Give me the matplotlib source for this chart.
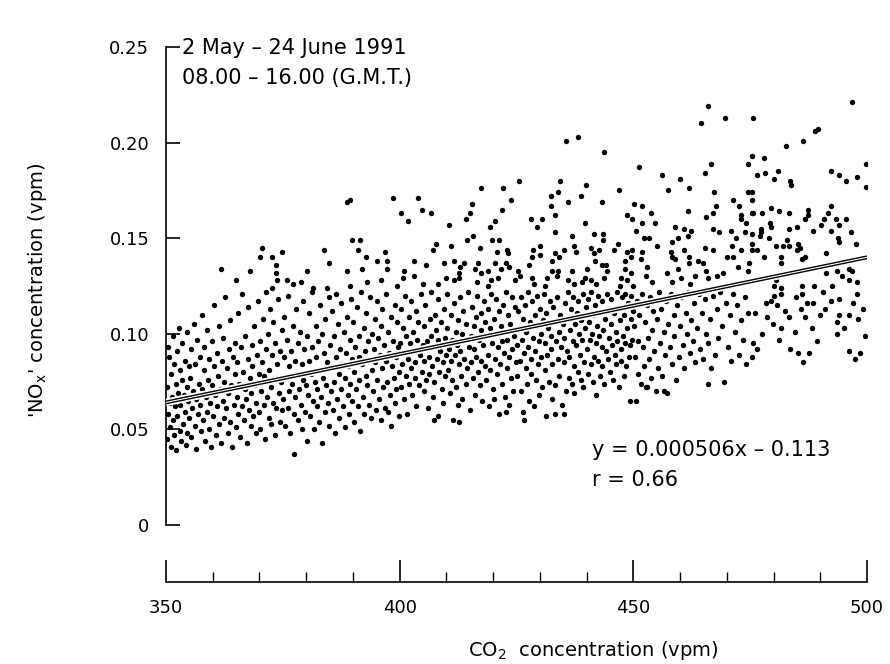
import numpy as np
import matplotlib
matplotlib.use("Agg")
import matplotlib.pyplot as plt

# NOx values are given in thousandths of a vpm
# sparse points above the dense cloud
upper_350 = [(370.5,145),(370.2,140),(372.6,140),(374.9,143),(373.5,136),(361.8,134),(368.0,133),
             (364.9,128),(373.5,132),(373.8,128),(375.9,128),(377.2,126),(372.6,124)]
upper_375 = [(388.8,169),(389.3,170),(398.6,171),(400.2,163),(401.7,159),(389.9,149),(391.6,149),(391.0,144),
             (383.8,144),(396.8,143),(392.9,140),(395.1,138),(397.3,138),(384.9,137),(380.2,133),(388.8,133),
             (392.0,134),(397.2,134),(400.9,133),(378.9,127),(393.1,127),(395.9,128),(400.7,129),
             (381.5,124),(384.4,124),(389.4,125),(399.5,125)]
upper_400 = [(425.6,180),(417.5,176),(422.2,176),(403.9,171),(423.8,170),(415.4,168),(404.8,165),(421.9,165),
             (406.6,163),(415.0,163),(414.3,160),(420.3,159),(410.6,157),(419.4,156),(415.6,151),(414.5,149),
             (419.7,149),(421.2,149),(407.7,147),(411.0,146),(407.2,144),(417.1,145),(423.0,144),(420.9,143),
             (423.2,142),(403.1,138),(405.7,136),(409.5,137),(411.6,138),(413.8,137),(416.8,137),(413.0,135),
             (420.3,137),(422.8,137),(423.5,135),(425.4,133),(416.2,134),(418.8,133),(417.5,132),(421.7,134),
             (412.8,132),(403.1,130),(409.9,129),(411.7,128),(412.8,129),(419.6,128),(421.0,129),(424.6,128),
             (425.8,130),(416.5,127),(418.8,125),(408.3,126),(404.9,126)]
upper_425 = [(435.5,201),(438.2,203),(443.7,195),(451.3,187),(434.4,180),(439.8,178),(446.9,175),(432.3,172),
             (433.9,174),(438.7,172),(436.1,169),(443.2,169),(450.2,168),(432.3,167),(433.2,162),(428.1,160),
             (430.5,160),(448.7,162),(449.8,160),(429.4,156),(439.6,158),(433.2,153),(436.8,151),(441.6,152),
             (443.6,152),(443.6,149),(450.5,154),(428.6,144),(430.1,146),(430.1,141),(428.3,140),(433.2,142),
             (435.2,144),(437.4,146),(437.7,143),(441.0,145),(442.7,144),(441.6,142),(446.7,147),(445.8,144),
             (448.7,143),(449.8,144),(427.7,136),(432.5,138),(434.1,140),(432.6,133),(433.9,133),(436.8,133),
             (440.1,134),(441.9,138),(443.4,136),(444.2,136),(444.4,133),(448.2,138),(449.6,140),(448.3,134),
             (449.6,132),(428.3,129),(431.6,129),(433.6,130),(436.1,128),(439.6,129),(441.0,128),(443.7,129),
             (447.3,129),(448.7,128),(428.8,126),(431.2,125),(437.4,126),(439.1,127),(442.0,126),(450.0,125),
             (447.1,125)]
upper_450 = [(466.0,219),(469.7,213),(464.5,210),(466.7,189),(474.5,189),(456.2,183),(460.0,181),(465.4,184),
             (462.0,176),(457.4,175),(467.2,174),(474.5,174),(471.4,170),(451.8,167),(472.7,167),(467.6,167),
             (461.6,164),(453.8,163),(465.5,161),(467.0,163),(473.1,162),(473.1,160),(474.2,158),(475.6,163),
             (451.8,158),(454.7,158),(458.9,156),(460.9,155),(462.3,154),(467.0,155),(468.4,153),(470.8,154),
             (474.0,153),(471.9,150),(452.3,150),(453.4,150),(455.0,146),(458.3,148),(459.6,150),(461.6,151),
             (460.9,144),(465.3,145),(467.0,144),(471.1,146),(473.1,144),(451.8,143),(458.0,143),(458.3,140),
             (458.9,139),(462.0,140),(461.9,137),(463.9,138),(465.0,137),(470.1,140),(471.4,140),(472.5,135),
             (474.7,137),(451.6,139),(453.0,135),(459.6,134),(465.6,133),(469.1,132),(474.6,133),(452.7,130),
             (457.1,132),(468.0,130),(463.1,130),(454.1,127),(458.3,127),(460.1,129),(462.1,126),(466.0,129)]
upper_475 = [(496.7,221),(475.7,213),(488.9,206),(489.6,207),(486.3,201),(482.7,198),(475.4,193),(477.9,192),
             (476.5,183),(478.1,184),(480.9,185),(480.0,181),(483.6,180),(483.8,178),(492.3,185),(494.1,183),
             (495.5,180),(497.8,182),(499.7,189),(499.7,177),(475.4,174),(475.4,170),(475.4,163),(477.6,163),
             (479.5,166),(481.2,164),(483.4,163),(487.4,165),(487.3,162),(486.7,160),(492.3,167),(491.6,163),
             (493.4,160),(495.6,160),(490.9,160),(490.2,157),(494.1,157),(475.4,152),(477.4,155),(477.4,153),
             (479.2,158),(479.5,156),(483.4,155),(485.1,156),(488.4,154),(492.4,154),(496.6,153),(475.4,147),
             (475.4,144),(476.5,144),(477.2,151),(479.1,150),(480.5,146),(482.0,146),(482.9,149),(483.4,146),
             (485.3,147),(485.6,145),(485.1,144),(493.8,150),(494.0,148),(497.7,147),(477.9,140),(481.6,140),
             (481.7,137),(486.0,139),(486.8,140),(491.2,142),(490.6,136),(493.2,137),(493.5,133),(491.2,132),
             (494.6,130),(496.1,134),(496.7,133),(497.9,127),(496.1,128),(480.5,128),(480.0,125),(481.6,124),
             (486.0,125),(488.6,125),(492.6,125)]

# dense cloud below about 0.123 vpm
lower_350 = [(350.2,72),(350.4,58),(350.3,45),(350.6,88),(350.8,64),(350.5,93),(350.9,51),(351.1,79),(351.0,41),
             (351.3,67),(351.5,99),(351.4,55),(351.7,84),(351.8,47),(352.0,62),(352.2,74),(352.1,39),(352.4,91),
             (352.3,57),(352.6,69),(352.8,103),(352.9,49),(353.1,81),(353.0,63),(353.3,44),(353.5,76),(353.4,95),
             (353.7,53),(353.9,68),(354.0,86),(354.2,42),(354.1,59),(354.4,72),(354.6,101),(354.5,48),(354.8,65),
             (354.9,83),(355.0,56),(355.2,77),(355.4,92),(355.3,46),(355.6,61),(355.8,70),(356.0,105),(356.1,52),
             (356.3,84),(356.5,66),(356.4,40),(356.7,97),(356.9,58),(357.0,74),(357.2,88),(357.4,49),(357.3,63),
             (357.6,110),(357.8,71),(357.9,55),(358.1,81),(358.3,44),(358.2,93),(358.5,67),(358.7,59),(358.8,102),
             (359.0,76),(359.2,50),(359.1,87),(359.4,64),(359.6,41),(359.8,73),(359.9,96),(360.1,57),(360.3,83),
             (360.2,115),(360.5,68),(360.7,47),(360.9,90),(361.0,62),(361.2,78),(361.4,53),(361.3,104),(361.6,71),
             (361.8,43),(362.0,86),(362.1,65),(362.3,98),(362.5,56),(362.4,75),(362.7,119),(362.9,61),(363.0,82),
             (363.2,48),(363.4,92),(363.3,69),(363.6,54),(363.8,107),(364.0,73),(364.1,41),(364.3,88),(364.5,63),
             (364.7,79),(364.9,51),(364.8,95),(365.1,67),(365.3,111),(365.2,85),(365.5,58),(365.7,74),(365.9,46),
             (366.0,93),(366.2,62),(366.4,80),(366.3,121),(366.6,55),(366.8,71),(367.0,99),(367.1,66),(367.3,43),
             (367.5,87),(367.7,60),(367.6,114),(367.9,77),(368.1,52),(368.3,94),(368.2,69),(368.5,83),(368.7,57),
             (368.9,104),(369.0,73),(369.2,48),(369.4,89),(369.3,64),(369.6,117),(369.8,79),(369.9,59),(370.1,96),
             (370.3,70),(370.2,50),(370.5,85),(370.7,108),(370.9,63),(371.0,78),(371.2,45),(371.4,92),(371.3,122),
             (371.6,67),(371.8,100),(372.0,56),(372.1,81),(372.3,113),(372.5,72),(372.4,53),(372.7,89),(372.9,64),
             (373.0,106),(373.2,76),(373.4,47),(373.3,95),(373.6,61),(373.8,84),(374.0,118),(374.1,69),(374.3,54),
             (374.5,91),(374.7,75),(374.9,102),(374.8,60)]
lower_375 = [(375.1,66),(375.3,88),(375.2,109),(375.5,52),(375.7,77),(375.9,97),(376.0,61),(376.2,120),(376.4,83),
             (376.3,70),(376.6,48),(376.8,91),(377.0,74),(377.1,104),(377.3,58),(377.5,86),(377.4,37),(377.7,67),
             (377.9,113),(378.1,79),(378.3,55),(378.2,95),(378.5,71),(378.7,101),(378.9,63),(379.0,84),(379.2,50),
             (379.4,117),(379.3,76),(379.6,92),(379.8,59),(379.9,73),(380.1,99),(380.3,68),(380.2,44),(380.5,86),
             (380.7,111),(380.9,57),(381.0,79),(381.2,93),(381.4,65),(381.3,122),(381.6,50),(381.8,75),(382.0,104),
             (382.1,88),(382.3,62),(382.5,96),(382.4,71),(382.7,54),(382.9,115),(383.0,81),(383.2,67),(383.4,43),
             (383.3,100),(383.6,77),(383.8,90),(384.0,59),(384.1,108),(384.3,73),(384.5,85),(384.7,64),(384.9,119),
             (384.8,52),(385.1,94),(385.3,70),(385.2,82),(385.5,112),(385.7,60),(385.9,99),(386.0,75),(386.2,48),
             (386.4,88),(386.3,121),(386.6,66),(386.8,105),(387.0,79),(387.1,56),(387.3,92),(387.5,71),(387.4,116),
             (387.7,84),(387.9,62),(388.1,101),(388.3,77),(388.2,51),(388.5,90),(388.7,109),(388.9,68),(389.0,83),
             (389.2,58),(389.4,97),(389.3,74),(389.6,118),(389.8,87),(389.9,65),(390.1,106),(390.3,80),(390.2,54),
             (390.5,93),(390.7,71),(390.9,114),(391.0,62),(391.2,88),(391.4,99),(391.3,76),(391.6,49),(391.8,122),
             (392.0,84),(392.1,67),(392.3,103),(392.5,91),(392.4,58),(392.7,78),(392.9,111),(393.0,73),(393.2,96),
             (393.4,63),(393.3,86),(393.6,119),(393.8,56),(394.0,81),(394.1,100),(394.3,70),(394.5,92),(394.7,108),
             (394.9,60),(394.8,85),(395.1,76),(395.3,98),(395.2,117),(395.5,66),(395.7,89),(395.9,55),(396.0,104),
             (396.2,82),(396.4,72),(396.3,113),(396.6,94),(396.8,61),(397.0,86),(397.1,121),(397.3,75),(397.5,101),
             (397.4,59),(397.7,90),(397.9,68),(398.1,109),(398.3,83),(398.2,52),(398.5,96),(398.7,77),(398.9,115),
             (399.0,64),(399.2,88),(399.4,106),(399.3,71),(399.6,93),(399.8,57),(399.9,80)]
lower_400 = [(400.1,95),(400.3,72),(400.2,113),(400.5,84),(400.7,103),(400.9,66),(401.0,90),(401.2,120),(401.4,78),
             (401.3,99),(401.6,58),(401.8,87),(402.0,109),(402.1,74),(402.3,95),(402.5,117),(402.4,82),(402.7,68),
             (402.9,101),(403.0,91),(403.2,77),(403.4,112),(403.3,85),(403.6,62),(403.8,97),(404.0,106),(404.1,73),
             (404.3,89),(404.5,121),(404.7,80),(404.9,94),(405.1,70),(405.3,104),(405.2,86),(405.5,115),(405.7,76),
             (405.9,96),(406.0,61),(406.2,88),(406.4,108),(406.3,79),(406.6,99),(406.8,122),(407.0,83),(407.1,67),
             (407.3,93),(407.5,110),(407.4,75),(407.7,102),(407.9,87),(408.1,57),(408.3,97),(408.2,118),(408.5,80),
             (408.7,91),(408.9,106),(409.0,71),(409.2,85),(409.4,113),(409.3,64),(409.6,98),(409.8,78),(409.9,89),
             (410.1,103),(410.3,81),(410.2,121),(410.5,92),(410.7,69),(410.9,110),(411.0,86),(411.2,97),(411.4,55),
             (411.3,76),(411.6,116),(411.8,89),(412.0,101),(412.1,72),(412.3,94),(412.5,63),(412.4,107),(412.7,84),
             (412.9,119),(413.0,91),(413.2,78),(413.4,100),(413.3,66),(413.6,112),(413.8,87),(414.0,96),(414.1,74),
             (414.3,105),(414.5,82),(414.7,122),(414.9,93),(415.1,60),(415.3,99),(415.2,85),(415.5,114),(415.7,77),
             (415.9,104),(416.0,92),(416.2,68),(416.4,109),(416.3,88),(416.6,120),(416.8,80),(417.0,97),(417.1,73),
             (417.3,111),(417.5,86),(417.4,102),(417.7,65),(417.9,94),(418.1,117),(418.3,83),(418.2,106),(418.5,76),
             (418.7,99),(418.9,113),(419.0,89),(419.2,62),(419.4,103),(419.3,81),(419.6,121),(419.8,95),(419.9,71),
             (420.1,108),(420.3,87),(420.2,66),(420.5,100),(420.7,118),(420.9,79),(421.0,93),(421.2,112),(421.4,84),
             (421.3,58),(421.6,104),(421.8,96),(422.0,74),(422.1,115),(422.3,90),(422.5,67),(422.4,101),(422.7,122),
             (422.9,82),(423.0,97),(423.2,110),(423.4,63),(423.3,88),(423.6,105),(423.8,77),(424.0,119),(424.1,92),
             (424.3,70),(424.5,99),(424.7,114),(424.9,85),(407.3,55),(412.8,54),(422.7,59)]
lower_425 = [(425.1,94),(425.3,112),(425.2,78),(425.5,103),(425.7,86),(425.9,119),(426.0,70),(426.2,97),(426.4,108),
             (426.3,59),(426.6,90),(426.8,115),(427.0,82),(427.1,101),(427.3,74),(427.5,122),(427.4,93),(427.7,65),
             (427.9,106),(428.1,87),(428.3,117),(428.2,79),(428.5,98),(428.7,62),(428.9,110),(429.0,91),(429.2,76),
             (429.4,104),(429.3,120),(429.6,84),(429.8,96),(429.9,68),(430.1,113),(430.3,88),(430.2,100),(430.5,72),
             (430.7,107),(430.9,121),(431.0,81),(431.2,95),(431.4,57),(431.3,111),(431.6,89),(431.8,103),(432.0,75),
             (432.1,117),(432.3,92),(432.5,66),(432.4,99),(432.7,84),(432.9,114),(433.0,106),(433.2,73),(433.4,96),
             (433.3,58),(433.6,119),(433.8,87),(434.0,101),(434.1,78),(434.3,110),(434.5,93),(434.7,63),(434.9,105),
             (435.1,85),(435.3,116),(435.2,98),(435.5,70),(435.7,108),(435.9,91),(436.0,122),(436.2,77),(436.4,102),
             (436.3,88),(436.6,113),(436.8,74),(437.0,96),(437.1,119),(437.3,83),(437.5,105),(437.4,69),(437.7,94),
             (437.9,111),(438.1,80),(438.3,100),(438.2,117),(438.5,89),(438.7,76),(438.9,107),(439.0,97),(439.2,121),
             (439.4,85),(439.3,72),(439.6,103),(439.8,114),(440.1,92),(440.3,118),(440.2,79),(440.5,106),(440.7,97),
             (440.9,84),(441.0,122),(441.2,100),(441.4,75),(441.3,110),(441.6,88),(441.8,115),(442.0,95),(442.1,68),
             (442.3,104),(442.5,120),(442.4,86),(442.7,99),(442.9,78),(443.0,112),(443.2,93),(443.4,117),(443.3,83),
             (443.6,102),(443.8,74),(444.0,108),(444.1,91),(444.3,121),(444.5,87),(444.7,98),(444.9,113),(445.1,80),
             (445.3,105),(445.2,118),(445.5,94),(445.7,76),(445.9,111),(446.0,89),(446.2,101),(446.4,122),(446.3,84),
             (446.6,96),(446.8,114),(447.0,72),(447.1,107),(447.3,92),(447.5,119),(447.4,86),(447.7,99),(447.9,78),
             (448.1,110),(448.3,95),(448.2,121),(448.5,83),(448.7,103),(448.9,116),(449.0,88),(449.2,94),(449.4,108),
             (449.3,65),(449.6,120),(449.8,97),(449.9,112),(426.5,55),(435.1,58)]
lower_450 = [(450.2,104),(450.4,88),(450.5,65),(450.7,117),(450.9,96),(451.1,79),(451.3,110),(451.6,74),(451.8,121),
             (452.0,93),(452.2,83),(452.5,106),(452.7,72),(452.9,115),(453.1,98),(453.4,87),(453.6,119),(453.8,77),
             (454.0,102),(454.3,112),(454.5,91),(454.8,70),(455.0,108),(455.2,82),(455.5,122),(455.7,95),(456.0,113),
             (456.2,78),(456.5,101),(456.7,89),(457.0,117),(457.2,69),(457.5,105),(457.8,93),(458.0,121),(458.3,84),
             (458.6,110),(458.8,99),(459.1,76),(459.4,115),(459.7,88),(460.0,104),(460.3,119),(460.6,94),(460.9,82),
             (461.2,111),(461.5,100),(461.8,122),(462.1,90),(462.4,107),(462.7,96),(463.0,116),(463.3,85),(463.6,103),
             (464.0,121),(464.3,92),(464.6,111),(465.0,87),(465.3,118),(465.6,100),(466.0,95),(466.3,108),(466.7,82),
             (467.0,120),(467.4,89),(467.8,113),(468.2,98),(468.6,122),(469.0,104),(469.4,75),(469.8,116),(470.2,93),
             (470.6,110),(471.0,86),(471.4,121),(471.8,101),(472.2,115),(472.6,89),(473.0,107),(473.4,97),(473.8,119),
             (474.2,84),(474.6,111),(456.6,70),(465.9,74),(452.9,72)]
lower_475 = [(486.3,85),(497.5,87),(485.2,90),(487.6,90),(498.4,90),(496.2,91),(483.6,92),(476.5,92),(475.4,88),
             (475.7,95),(481.2,97),(481.6,103),(484.5,101),(488.2,103),(493.6,100),(499.5,99),(493.6,106),(490.0,110),
             (486.7,109),(476.1,111),(478.7,109),(483.4,109),(494.0,110),(496.2,110),(498.0,108),(499.1,113),
             (496.9,116),(492.2,117),(494.0,118),(488.5,116),(487.1,116),(484.9,119),(486.0,121),(481.6,121),
             (480.8,115),(478.3,116),(479.4,117),(477.5,100),(479.8,105),(482.4,112),(489.4,96),(491.1,113),
             (495.0,103),(497.8,121),(480.2,120),(490.5,122),(485.8,113)]

# fitted regression line
slope = 0.000506
intercept = -0.113
fit_x = [350, 500]

pts = np.array(upper_350 + upper_375 + upper_400 + upper_425 + upper_450 + upper_475
               + lower_350 + lower_375 + lower_400 + lower_425 + lower_450 + lower_475)
co2 = pts[:, 0]
nox = pts[:, 1] / 1000.0

plt.rcParams['font.family'] = ['DejaVu Sans']
fig = plt.figure(figsize=(8.9, 6.64), dpi=100)
ax = fig.add_axes([166/890, 139/664, 701/890, 478/664])

ax.scatter(co2, nox, s=15, c='black', linewidths=0, zorder=2)
fy = [slope * v + intercept for v in fit_x]
ax.plot(fit_x, fy, color='white', lw=5.5, zorder=3, solid_capstyle='butt')
ax.plot(fit_x, fy, color='black', lw=2.8, zorder=4, solid_capstyle='butt')
ax.plot(fit_x, fy, color='white', lw=0.8, zorder=5, solid_capstyle='butt')

ax.set_xlim(350, 500)
ax.set_ylim(0, 0.25)
ax.spines['top'].set_visible(False)
ax.spines['right'].set_visible(False)
ax.spines['bottom'].set_position(('outward', 41))
ax.spines['left'].set_linewidth(1.2)
ax.spines['bottom'].set_linewidth(1.2)

ax.set_xticks([350, 400, 450, 500])
ax.set_xticks(np.arange(350, 501, 10), minor=True)
ax.set_yticks([0, 0.05, 0.10, 0.15, 0.20, 0.25])
ax.set_yticklabels(['0', '0.05', '0.10', '0.15', '0.20', '0.25'])
ax.tick_params(axis='y', direction='in', length=10, width=1.2, pad=12, labelsize=13)
ax.tick_params(axis='x', which='major', direction='in', length=16, width=1.2, pad=12, labelsize=13)
ax.tick_params(axis='x', which='minor', direction='in', length=7, width=1.0)

fig.text(182/890, 1 - 48/664, '2 May \u2013 24 June 1991', fontsize=15, va='center', ha='left')
fig.text(182/890, 1 - 78/664, '08.00 \u2013 16.00 (G.M.T.)', fontsize=15, va='center', ha='left')
fig.text(592/890, 1 - 450/664, 'y = 0.000506x \u2013 0.113', fontsize=15, va='center', ha='left')
fig.text(592/890, 1 - 480/664, 'r = 0.66', fontsize=15, va='center', ha='left')

fig.text(38/890, 1 - 290/664, "'NO$_\\mathregular{x}$' concentration (vpm)", fontsize=14,
         rotation=90, va='center', ha='center')
fig.text(593/890, 1 - 650/664, 'CO$_\\mathregular{2}$  concentration (vpm)', fontsize=14,
         va='center', ha='center')

fig.savefig('out.png', dpi=100)
